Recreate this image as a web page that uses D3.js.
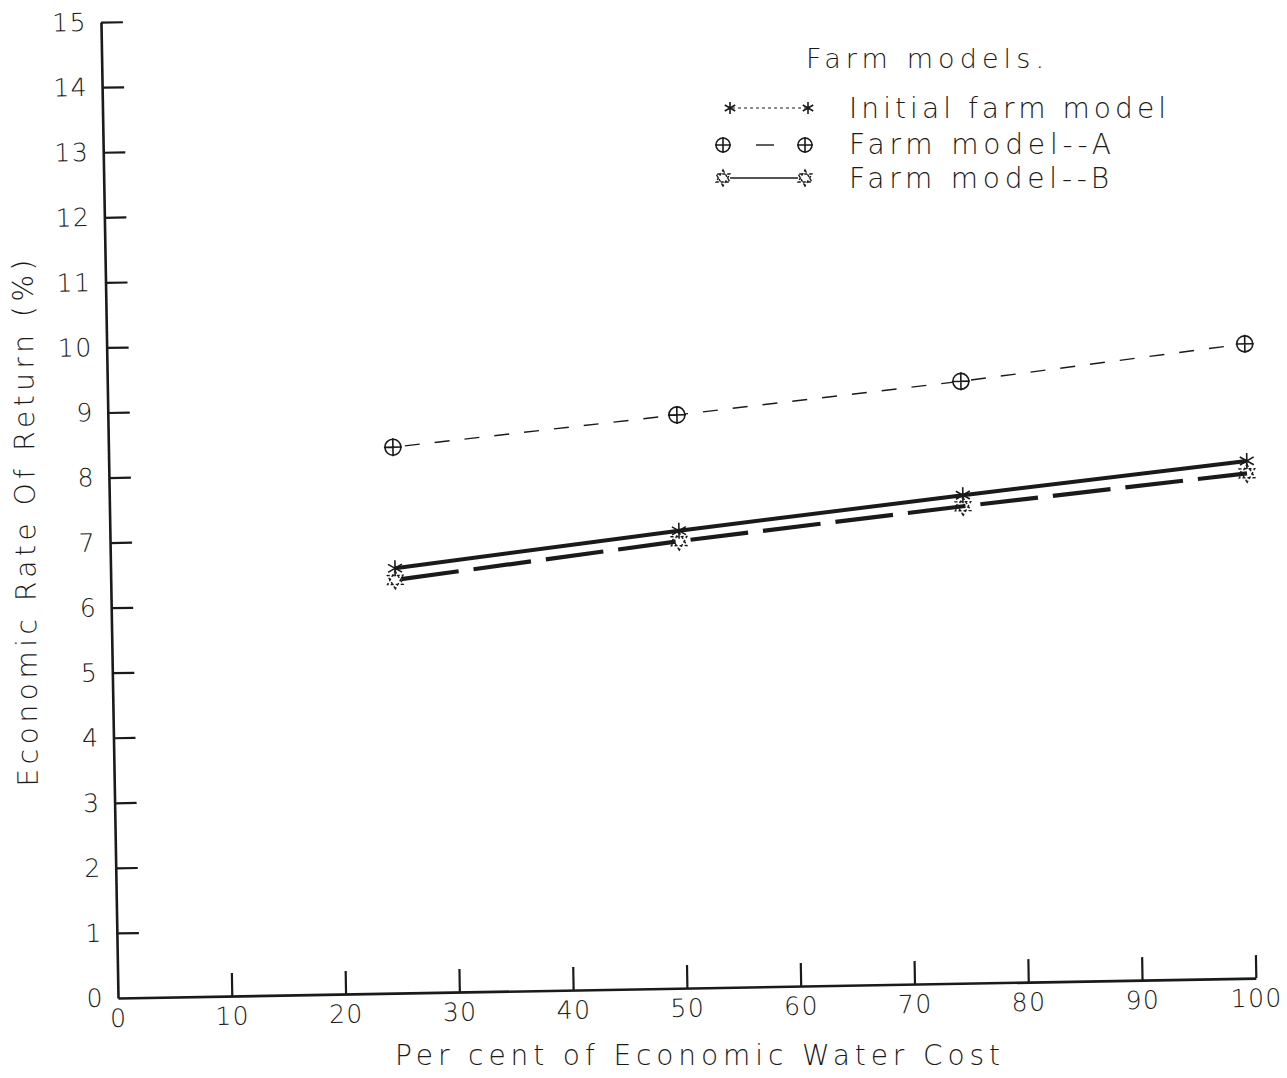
<!DOCTYPE html>
<html>
<head>
<meta charset="utf-8">
<script src="https://cdn.jsdelivr.net/npm/d3@7"></script>
<style>
  html, body { margin: 0; padding: 0; background: #fff; }
  svg { display: block; }
  text { font-family: "DejaVu Sans", "Liberation Sans", sans-serif; font-weight: 200; fill: #1a1a1a; }
</style>
</head>
<body>
<svg id="chart" width="1287" height="1078"></svg>
<script>
// ---- data ----
const xValues = [25, 50, 75, 100];
const initialModel = [6.53, 7.03, 7.50, 7.95];
const farmModelA = [8.39, 8.81, 9.25, 9.75];
const farmModelB = [6.35, 6.87, 7.33, 7.76];
const xTicks = [0, 10, 20, 30, 40, 50, 60, 70, 80, 90, 100];
const yTicks = [0, 1, 2, 3, 4, 5, 6, 7, 8, 9, 10, 11, 12, 13, 14, 15];
const seriesNames = ["Initial farm model", "Farm model--A", "Farm model--B"];
const legendTitle = "Farm models.";
const xTitle = "Per cent of Economic Water Cost";
const yTitle = "Economic Rate Of Return (%)";

const svg = d3.select("#chart");
const W = 1138, H = 976;
const x = d3.scaleLinear().domain([0, 100]).range([0, W]);
const y = d3.scaleLinear().domain([0, 15]).range([0, -H]);

// whole plot is slightly tilted, as in the scanned reference
const g = svg.append("g").attr("transform", "translate(118,998) rotate(-1)");

const ink = "#1a1a1a";
const fontStack = "'DejaVu Sans', 'Liberation Sans', sans-serif";

// axes
const xAxis = d3.axisBottom(x).tickValues(xTicks).tickSizeInner(-23).tickSizeOuter(0).tickPadding(11);
const yAxis = d3.axisLeft(y).tickValues(yTicks).tickSizeInner(-22).tickSizeOuter(0).tickPadding(14);

const gx = g.append("g").call(xAxis);
gx.select(".domain").attr("stroke", ink).attr("stroke-width", 2.6);
gx.selectAll(".tick line").attr("stroke", ink).attr("stroke-width", 2.2);
gx.selectAll(".tick").filter(d => d === 0).select("line").remove();
gx.selectAll(".tick text").attr("font-size", 25).attr("letter-spacing", 1.5).attr("fill", ink)
  .style("font-family", fontStack).style("font-weight", 200);

const gy = g.append("g").call(yAxis);
gy.select(".domain").attr("stroke", ink).attr("stroke-width", 2.6);
gy.selectAll(".tick line").attr("stroke", ink).attr("stroke-width", 2.2);
gy.selectAll(".tick").filter(d => d === 0).select("line").remove();
gy.selectAll(".tick text").attr("font-size", 25).attr("letter-spacing", 1.5).attr("fill", ink)
  .style("font-family", fontStack).style("font-weight", 200);

// series data
const mk = vals => xValues.map((v, i) => ({ x: v, y: vals[i] }));
const line = d3.line().x(d => x(d.x)).y(d => y(d.y));

// Farm model A: thin short dashes
g.append("path").datum(mk(farmModelA)).attr("d", line)
  .attr("fill", "none").attr("stroke", ink).attr("stroke-width", 1.4)
  .attr("stroke-dasharray", "15,15").attr("stroke-dashoffset", -12);

// Farm model B: thick long dashes
g.append("path").datum(mk(farmModelB)).attr("d", line)
  .attr("fill", "none").attr("stroke", ink).attr("stroke-width", 4.2)
  .attr("stroke-dasharray", "58,15").attr("stroke-dashoffset", -6);

// Initial model: thick solid
g.append("path").datum(mk(initialModel)).attr("d", line)
  .attr("fill", "none").attr("stroke", ink).attr("stroke-width", 4);

// marker generators
function asterisk(sel, s) {
  const p = `M0,${-s}V${s}M${-s*0.87},${-s*0.5}L${s*0.87},${s*0.5}M${-s*0.87},${s*0.5}L${s*0.87},${-s*0.5}`;
  sel.append("path").attr("d", p).attr("fill", "none").attr("stroke", ink).attr("stroke-width", 1.6);
}
function circlePlus(sel, r) {
  sel.append("circle").attr("r", r).attr("fill", "#fff").attr("stroke", ink).attr("stroke-width", 1.6);
  sel.append("path").attr("d", `M${-r-1},0H${r+1}M0,${-r-1}V${r+1}`).attr("stroke", ink).attr("stroke-width", 1.6);
}
function hexagram(sel, r) {
  const tri = a0 => d3.range(3).map(i => {
    const a = a0 + i * 2 * Math.PI / 3;
    return [r * Math.sin(a), -r * Math.cos(a)];
  });
  const p = t => "M" + t.map(q => q.join(",")).join("L") + "Z";
  sel.append("path").attr("d", p(tri(0)) + p(tri(Math.PI))).attr("fill", "none")
    .attr("stroke", ink).attr("stroke-width", 1.4).attr("stroke-dasharray", "3,2");
}

g.selectAll(".mA").data(mk(farmModelA)).join("g").attr("class", "mA")
  .attr("transform", d => `translate(${x(d.x)},${y(d.y)})`).each(function () { circlePlus(d3.select(this), 8); });
g.selectAll(".mB").data(mk(farmModelB)).join("g").attr("class", "mB")
  .attr("transform", d => `translate(${x(d.x)},${y(d.y)})`).each(function () { hexagram(d3.select(this), 9); });
g.selectAll(".mI").data(mk(initialModel)).join("g").attr("class", "mI")
  .attr("transform", d => `translate(${x(d.x)},${y(d.y)})`).each(function () { asterisk(d3.select(this), 8); });

// axis titles
svg.append("text").attr("x", 395).attr("y", 1065).attr("font-size", 28)
  .attr("textLength", 605).attr("lengthAdjust", "spacing").text(xTitle);
svg.append("text").attr("transform", "translate(35,523) rotate(-90.6)").attr("text-anchor", "middle")
  .attr("font-size", 28).attr("textLength", 527).attr("lengthAdjust", "spacing").text(yTitle);

// legend
const lg = svg.append("g");
lg.append("text").attr("x", 806).attr("y", 68).attr("font-size", 27)
  .attr("textLength", 238).attr("lengthAdjust", "spacing").text(legendTitle);
const legY = [108, 144, 178];
const legW = [317, 262, 260];
seriesNames.forEach((name, i) => {
  lg.append("text").attr("x", 849).attr("y", legY[i] + 10).attr("font-size", 28)
    .attr("textLength", legW[i]).attr("lengthAdjust", "spacing").text(name);
});
// legend samples
lg.append("line").attr("x1", 732).attr("x2", 806).attr("y1", 108).attr("y2", 108)
  .attr("stroke", ink).attr("stroke-width", 1).attr("stroke-dasharray", "3,3");
[730, 808].forEach(px => asterisk(lg.append("g").attr("transform", `translate(${px},108)`), 6));
lg.append("line").attr("x1", 756).attr("x2", 774).attr("y1", 145).attr("y2", 145)
  .attr("stroke", ink).attr("stroke-width", 1.4);
[723, 805].forEach(px => circlePlus(lg.append("g").attr("transform", `translate(${px},145)`), 7));
lg.append("line").attr("x1", 730).attr("x2", 798).attr("y1", 178).attr("y2", 178)
  .attr("stroke", ink).attr("stroke-width", 1.4);
[723, 805].forEach(px => hexagram(lg.append("g").attr("transform", `translate(${px},178)`), 8));
</script>
</body>
</html>
